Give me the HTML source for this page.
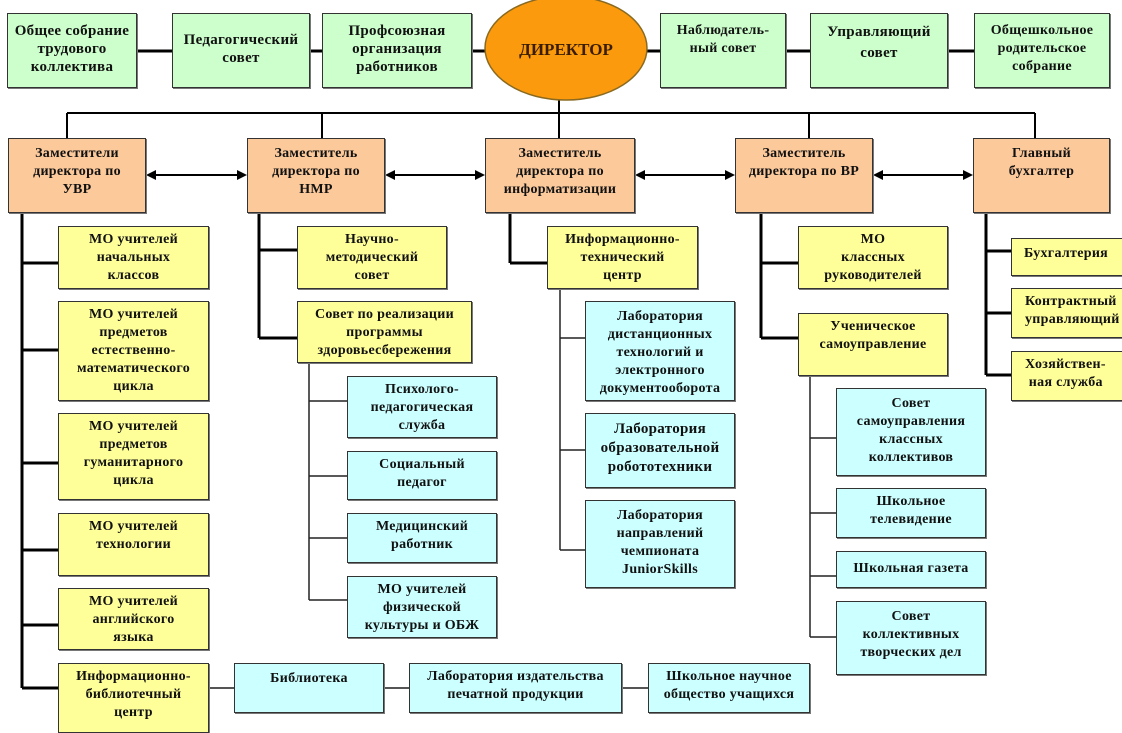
<!DOCTYPE html>
<html><head><meta charset="utf-8"><style>
body{margin:0;width:1122px;height:720px;overflow:hidden;background:#fff;position:relative;font-family:"Liberation Serif","DejaVu Serif",serif;}
.b{position:absolute;box-sizing:border-box;border:1px solid #333;box-shadow:1px 1px 0 #777;font-weight:bold;font-size:14px;line-height:18px;text-align:center;color:#111;padding-top:6px;white-space:nowrap;letter-spacing:0.3px;}
.g{background:#ccffcc;}
.o{background:#fcc99b;}
.y{background:#ffff99;}
.c{background:#ccffff;}
svg{position:absolute;left:0;top:0;}
</style></head><body>
<svg width="1122" height="720">
<g stroke="#000" stroke-width="3" fill="none">
<line x1="137" y1="51" x2="172" y2="51"/>
<line x1="310" y1="51" x2="322" y2="51"/>
<line x1="472" y1="51" x2="487" y2="51"/>
<line x1="646" y1="51" x2="660" y2="51"/>
<line x1="786" y1="51" x2="810" y2="51"/>
<line x1="948" y1="51" x2="974" y2="51"/>
</g>
<g stroke="#000" stroke-width="2" fill="none">
<line x1="559" y1="98" x2="559" y2="138"/>
<line x1="67" y1="113" x2="1035" y2="113"/>
<line x1="67" y1="113" x2="67" y2="138"/>
<line x1="322" y1="113" x2="322" y2="138"/>
<line x1="809" y1="113" x2="809" y2="138"/>
<line x1="1035" y1="113" x2="1035" y2="138"/>
<line x1="154" y1="175" x2="239" y2="175"/>
<line x1="393" y1="175" x2="477" y2="175"/>
<line x1="643" y1="175" x2="727" y2="175"/>
<line x1="881" y1="175" x2="965" y2="175"/>
</g>
<g fill="#000">
<polygon points="146,175 156,170 156,180"/><polygon points="247,175 237,170 237,180"/>
<polygon points="385,175 395,170 395,180"/><polygon points="485,175 475,170 475,180"/>
<polygon points="635,175 645,170 645,180"/><polygon points="735,175 725,170 725,180"/>
<polygon points="873,175 883,170 883,180"/><polygon points="973,175 963,170 963,180"/>
</g>
<g stroke="#000" stroke-width="3" fill="none">
<line x1="22" y1="213" x2="22" y2="688"/>
<line x1="22" y1="263" x2="58" y2="263"/><line x1="22" y1="350" x2="58" y2="350"/>
<line x1="22" y1="463" x2="58" y2="463"/><line x1="22" y1="550" x2="58" y2="550"/>
<line x1="22" y1="625" x2="58" y2="625"/><line x1="22" y1="688" x2="58" y2="688"/>
<line x1="259" y1="213" x2="259" y2="338"/>
<line x1="259" y1="250" x2="297" y2="250"/><line x1="259" y1="338" x2="297" y2="338"/>
<line x1="510" y1="213" x2="510" y2="263"/><line x1="510" y1="263" x2="547" y2="263"/>
<line x1="761" y1="213" x2="761" y2="338"/>
<line x1="761" y1="263" x2="798" y2="263"/><line x1="761" y1="338" x2="798" y2="338"/>
<line x1="986" y1="213" x2="986" y2="375"/>
<line x1="986" y1="251" x2="1011" y2="251"/><line x1="986" y1="313" x2="1011" y2="313"/><line x1="986" y1="375" x2="1011" y2="375"/>
</g>
<g stroke="#222" stroke-width="1.5" fill="none">
<line x1="309" y1="363" x2="309" y2="600"/>
<line x1="309" y1="401" x2="347" y2="401"/><line x1="309" y1="476" x2="347" y2="476"/>
<line x1="309" y1="538" x2="347" y2="538"/><line x1="309" y1="600" x2="347" y2="600"/>
<line x1="560" y1="289" x2="560" y2="550"/>
<line x1="560" y1="338" x2="585" y2="338"/><line x1="560" y1="450" x2="585" y2="450"/><line x1="560" y1="550" x2="585" y2="550"/>
<line x1="810" y1="376" x2="810" y2="637"/>
<line x1="810" y1="438" x2="836" y2="438"/><line x1="810" y1="513" x2="836" y2="513"/>
<line x1="810" y1="576" x2="836" y2="576"/><line x1="810" y1="637" x2="836" y2="637"/>
<line x1="209" y1="688" x2="234" y2="688" stroke="#555" stroke-width="2"/>
<line x1="384" y1="688" x2="409" y2="688" stroke="#555" stroke-width="2"/>
<line x1="622" y1="688" x2="648" y2="688" stroke="#555" stroke-width="2"/>
</g>
<ellipse cx="566" cy="48" rx="81" ry="52" fill="#fb9a0c" stroke="#8a6a20" stroke-width="1.5"/>
<text x="566" y="55" text-anchor="middle" font-family="Liberation Serif, serif" font-weight="bold" font-size="17" fill="#3a1d00">ДИРЕКТОР</text>
</svg>

<div class="b g" style="left:7px;top:13px;width:130px;height:75px;padding-top:8px;font-size:15px;">Общее собрание<br>трудового<br>коллектива</div>
<div class="b g" style="left:172px;top:13px;width:138px;height:75px;padding-top:17px;font-size:15px;">Педагогический<br>совет</div>
<div class="b g" style="left:322px;top:13px;width:150px;height:75px;padding-top:8px;font-size:15px;">Профсоюзная<br>организация<br>работников</div>
<div class="b g" style="left:660px;top:13px;width:126px;height:75px;padding-top:8px;">Наблюдатель-<br>ный совет</div>
<div class="b g" style="left:810px;top:13px;width:138px;height:75px;padding-top:8px;font-size:15px;line-height:21px;">Управляющий<br>совет</div>
<div class="b g" style="left:974px;top:13px;width:136px;height:75px;padding-top:8px;">Общешкольное<br>родительское<br>собрание</div>

<div class="b o" style="left:8px;top:138px;width:138px;height:75px;">Заместители<br>директора по<br>УВР</div>
<div class="b o" style="left:247px;top:138px;width:138px;height:75px;">Заместитель<br>директора по<br>НМР</div>
<div class="b o" style="left:485px;top:138px;width:150px;height:75px;">Заместитель<br>директора по<br>информатизации</div>
<div class="b o" style="left:735px;top:138px;width:138px;height:75px;">Заместитель<br>директора по ВР</div>
<div class="b o" style="left:973px;top:138px;width:137px;height:75px;">Главный<br>бухгалтер</div>

<div class="b y" style="left:58px;top:226px;width:151px;height:63px;padding-top:4px;">МО учителей<br>начальных<br>классов</div>
<div class="b y" style="left:58px;top:301px;width:151px;height:100px;padding-top:4px;">МО учителей<br>предметов<br>естественно-<br>математического<br>цикла</div>
<div class="b y" style="left:58px;top:413px;width:151px;height:87px;padding-top:4px;">МО учителей<br>предметов<br>гуманитарного<br>цикла</div>
<div class="b y" style="left:58px;top:513px;width:151px;height:63px;padding-top:4px;">МО учителей<br>технологии</div>
<div class="b y" style="left:58px;top:588px;width:151px;height:62px;padding-top:4px;">МО учителей<br>английского<br>языка</div>
<div class="b y" style="left:58px;top:663px;width:151px;height:70px;padding-top:4px;">Информационно-<br>библиотечный<br>центр</div>

<div class="b y" style="left:297px;top:226px;width:150px;height:63px;padding-top:4px;">Научно-<br>методический<br>совет</div>
<div class="b y" style="left:297px;top:301px;width:175px;height:62px;padding-top:4px;">Совет по реализации<br>программы<br>здоровьесбережения</div>
<div class="b c" style="left:347px;top:376px;width:150px;height:62px;padding-top:4px;">Психолого-<br>педагогическая<br>служба</div>
<div class="b c" style="left:347px;top:451px;width:150px;height:49px;padding-top:4px;">Социальный<br>педагог</div>
<div class="b c" style="left:347px;top:513px;width:150px;height:50px;padding-top:4px;">Медицинский<br>работник</div>
<div class="b c" style="left:347px;top:576px;width:150px;height:62px;padding-top:4px;">МО учителей<br>физической<br>культуры и ОБЖ</div>

<div class="b c" style="left:234px;top:663px;width:150px;height:50px;padding-top:6px;">Библиотека</div>
<div class="b c" style="left:409px;top:663px;width:213px;height:50px;padding-top:4px;">Лаборатория издательства<br>печатной продукции</div>
<div class="b c" style="left:648px;top:663px;width:162px;height:50px;padding-top:4px;">Школьное научное<br>общество учащихся</div>

<div class="b y" style="left:547px;top:226px;width:151px;height:63px;padding-top:4px;">Информационно-<br>технический<br>центр</div>
<div class="b c" style="left:585px;top:301px;width:150px;height:100px;padding-top:6px;">Лаборатория<br>дистанционных<br>технологий и<br>электронного<br>документооборота</div>
<div class="b c" style="left:585px;top:413px;width:150px;height:75px;padding-top:6px;font-size:15px;line-height:19px;">Лаборатория<br>образовательной<br>робототехники</div>
<div class="b c" style="left:585px;top:500px;width:150px;height:88px;padding-top:6px;">Лаборатория<br>направлений<br>чемпионата<br>JuniorSkills</div>

<div class="b y" style="left:798px;top:226px;width:150px;height:63px;padding-top:4px;">МО<br>классных<br>руководителей</div>
<div class="b y" style="left:798px;top:313px;width:150px;height:63px;padding-top:4px;">Ученическое<br>самоуправление</div>
<div class="b c" style="left:836px;top:388px;width:150px;height:88px;padding-top:6px;">Совет<br>самоуправления<br>классных<br>коллективов</div>
<div class="b c" style="left:836px;top:488px;width:150px;height:50px;padding-top:4px;">Школьное<br>телевидение</div>
<div class="b c" style="left:836px;top:551px;width:150px;height:37px;padding-top:8px;">Школьная газета</div>
<div class="b c" style="left:836px;top:601px;width:150px;height:74px;padding-top:6px;">Совет<br>коллективных<br>творческих дел</div>

<div class="b y" style="left:1011px;top:238px;width:120px;height:38px;padding-top:6px;text-align:left;padding-left:12px;">Бухгалтерия</div>
<div class="b y" style="left:1011px;top:288px;width:120px;height:50px;padding-top:4px;text-align:left;padding-left:13px;">Контрактный<br>управляющий</div>
<div class="b y" style="left:1011px;top:351px;width:120px;height:50px;padding-top:4px;text-align:left;padding-left:13px;">Хозяйствен-<br>&nbsp;ная служба</div>
</body></html>
